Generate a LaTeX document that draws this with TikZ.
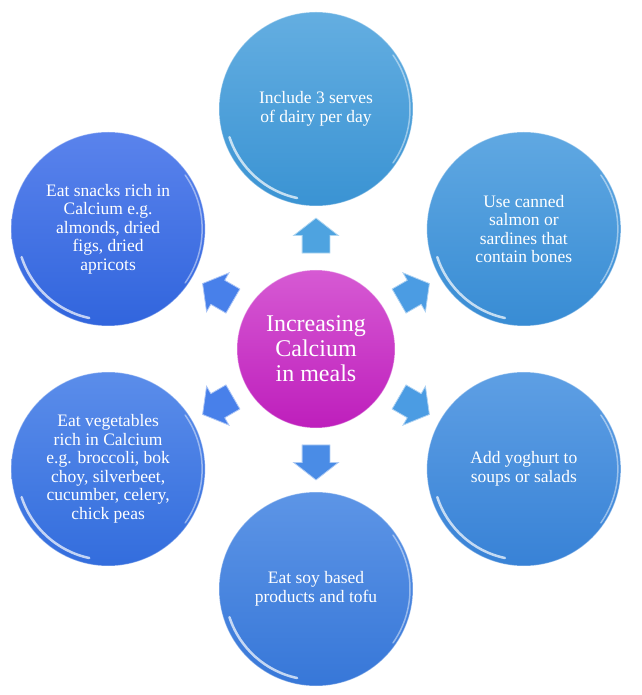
\documentclass[tikz,border=0pt]{standalone}
\usepackage{fontspec}
\setmainfont{Liberation Serif}
\usetikzlibrary{shapes.arrows, positioning}

\definecolor{hubtop}{HTML}{D65AD3}
\definecolor{hubbot}{HTML}{BE1EBC}
\definecolor{dairytop}{HTML}{64AEE1}
\definecolor{dairybot}{HTML}{3A93D3}
\definecolor{fishtop}{HTML}{60A8E2}
\definecolor{fishbot}{HTML}{388CD4}
\definecolor{yogtop}{HTML}{5E9FE4}
\definecolor{yogbot}{HTML}{3882D6}
\definecolor{soytop}{HTML}{5D95E6}
\definecolor{soybot}{HTML}{3777D8}
\definecolor{vegtop}{HTML}{5B8DEA}
\definecolor{vegbot}{HTML}{336DDD}
\definecolor{snacktop}{HTML}{5A83EC}
\definecolor{snackbot}{HTML}{3165DD}
\definecolor{arrup}{HTML}{4EA3E0}
\definecolor{arrright}{HTML}{4B9CE3}
\definecolor{arrdown}{HTML}{4A8CE6}
\definecolor{arrleft}{HTML}{4880EA}

\begin{document}
\begin{tikzpicture}[
    x=1pt, y=1pt,
    hub/.style={circle, minimum size=158pt, inner sep=0pt, top color=hubtop, bottom color=hubbot, draw=white, draw opacity=0.35, line width=1pt, text=white, align=center, font=\rmfamily\fontsize{24}{25}\selectfont},
    leaf/.style={circle, minimum size=194pt, inner sep=0pt, draw=white, draw opacity=0.35, line width=1pt, text=white, align=center, font=\rmfamily\fontsize{17.5}{18.5}\selectfont,
        path picture={
            \draw[white, line width=2.5pt, opacity=0.7, line cap=round] ([shift={(198:91)}]path picture bounding box.center) arc[start angle=198, end angle=258, radius=91];
            \draw[white, line width=1.5pt, opacity=0.45, line cap=round] ([shift={(-35:94)}]path picture bounding box.center) arc[start angle=-35, end angle=35, radius=94];
        }},
    blockarrow/.style={single arrow, minimum height=35pt, inner xsep=0pt, inner ysep=13.5pt, single arrow head extend=8.5pt, single arrow tip angle=104, fill=#1, draw=#1!45!white, line width=0.8pt}
]
    \useasboundingbox (-316,-346) rectangle (325,349);

    \node[hub] (hub) at (0,0) {Increasing\\Calcium\\in meals};

    \node[leaf, top color=dairytop, bottom color=dairybot] (dairy) at (90:240) {Include 3 serves\\of dairy per day};
    \node[leaf, top color=fishtop, bottom color=fishbot] (fish) at (30:240) {Use canned\\salmon or\\sardines that\\contain bones};
    \node[leaf, top color=yogtop, bottom color=yogbot] (yoghurt) at (-30:240) {Add yoghurt to\\soups or salads};
    \node[leaf, top color=soytop, bottom color=soybot] (soy) at (-90:240) {Eat soy based\\products and tofu};
    \node[leaf, top color=vegtop, bottom color=vegbot] (veg) at (210:240) {Eat vegetables\\rich in Calcium\\e.g. broccoli, bok\\choy, silverbeet,\\cucumber, celery,\\chick peas};
    \node[leaf, top color=snacktop, bottom color=snackbot] (snacks) at (150:240) {Eat snacks rich in\\Calcium e.g.\\almonds, dried\\figs, dried\\apricots};

    % block arrows between the hub and each circle
    \foreach \ang/\col/\nm in {90/arrup/dairy, 30/arrright/fish, -30/arrright/yoghurt, -90/arrdown/soy, 210/arrleft/veg, 150/arrleft/snacks}
        \node[blockarrow=\col, rotate=\ang] (to-\nm) at (\ang:108) {};
\end{tikzpicture}
\end{document}
